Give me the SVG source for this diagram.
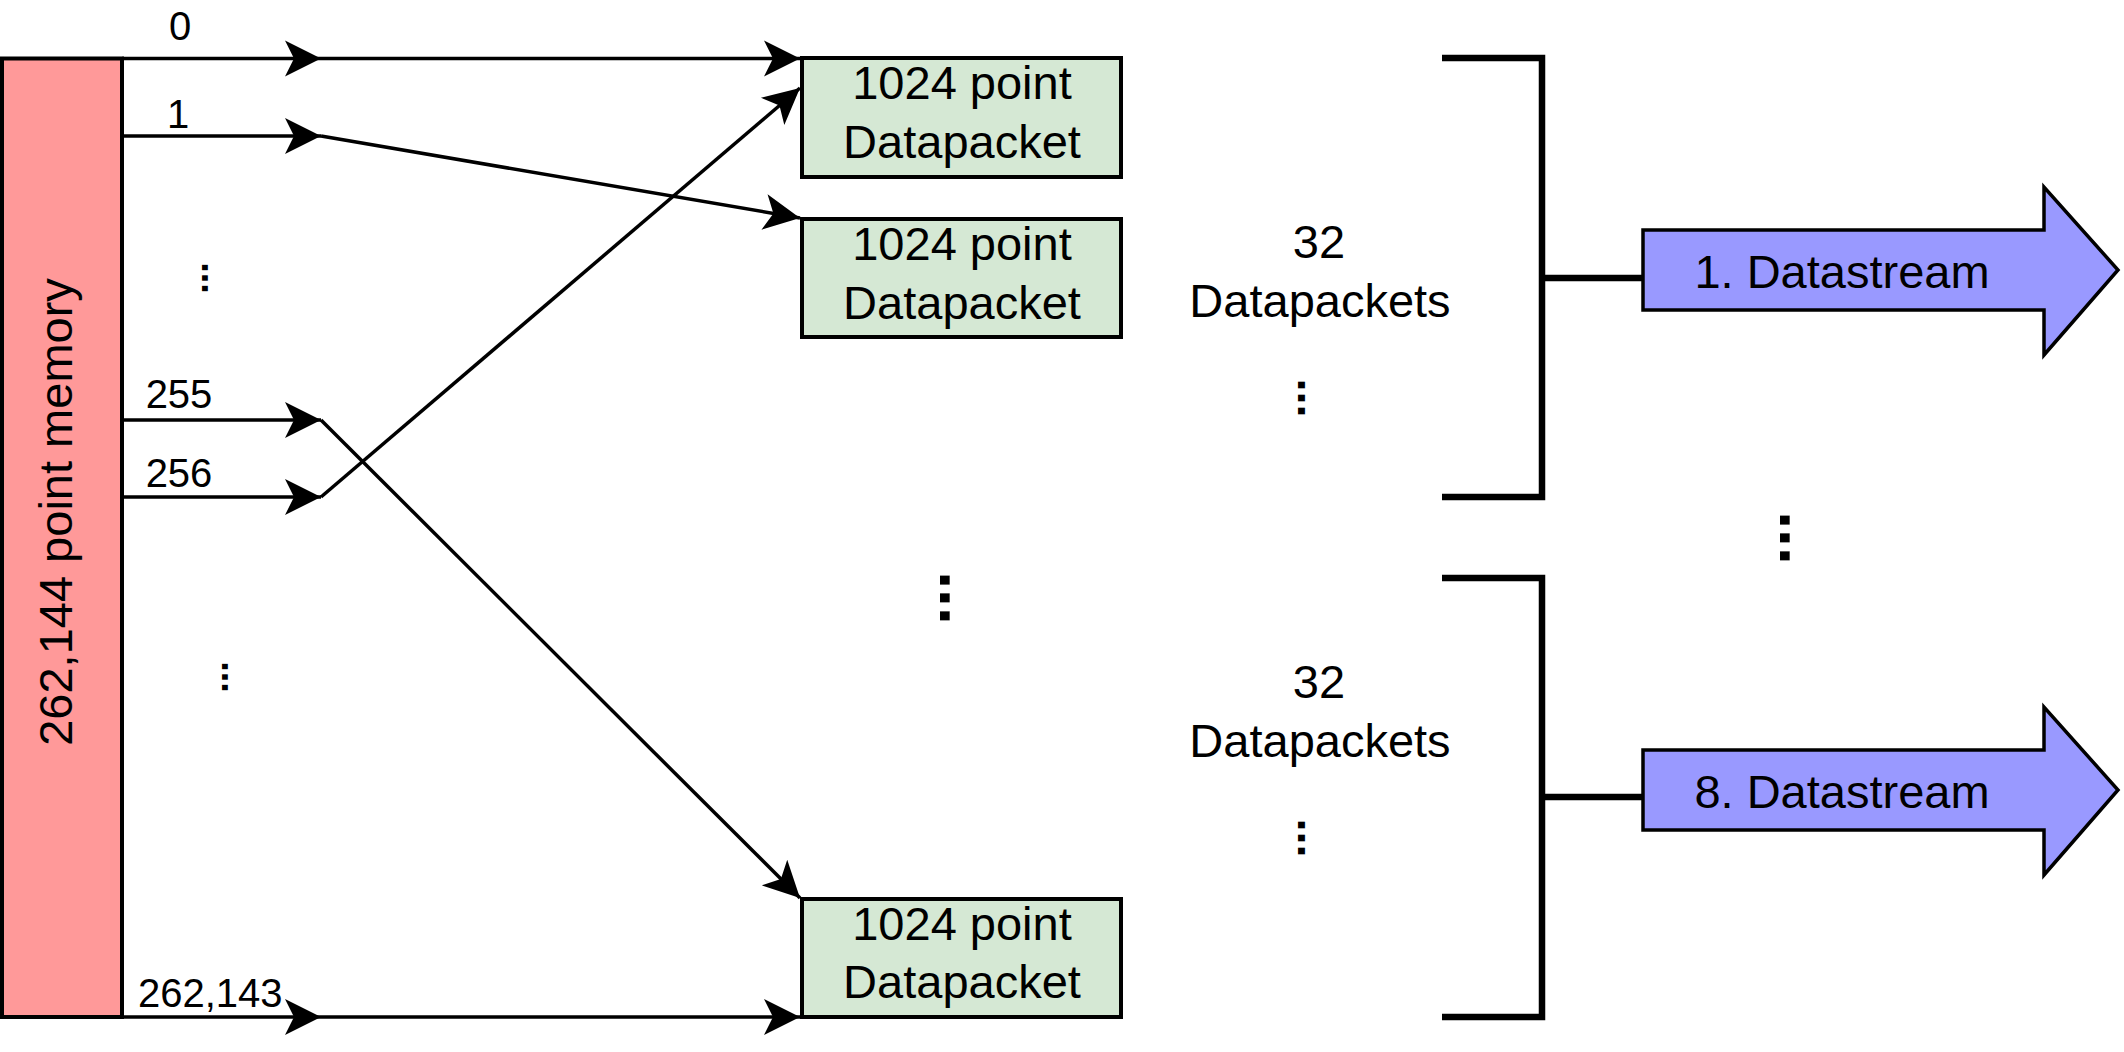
<svg xmlns="http://www.w3.org/2000/svg" width="2124" height="1052" viewBox="0 0 2124 1052">
  <style>
    text { font-family: "Liberation Sans", Arial, Helvetica, sans-serif; fill: #000; }
    .big { font-size: 47px; }
    .small { font-size: 40px; }
    .dots { font-weight: bold; }
    .conn { fill: none; stroke: #000; stroke-width: 3.5; marker-end: url(#ah); }
    .bracket { fill: none; stroke: #000; stroke-width: 6.5; }
    .packet { fill: #D5E8D4; stroke: #000; stroke-width: 4; }
    .stream { fill: #9999FF; stroke: #000; stroke-width: 3.5; stroke-linejoin: miter; }
  </style>
  <defs>
    <marker id="ah" viewBox="-40 -20 42 40" refX="0" refY="0" markerWidth="42" markerHeight="40" markerUnits="userSpaceOnUse" orient="auto">
      <path d="M0,0 L-36,-18 L-27,0 L-36,18 Z" fill="#000"/>
    </marker>
  </defs>
  <rect width="2124" height="1052" fill="#fff"/>

  <g id="memory">
    <rect x="2" y="58.5" width="120" height="958.5" fill="#FF9999" stroke="#000" stroke-width="4"/>
    <text class="big" transform="translate(72,512) rotate(-90)" text-anchor="middle">262,144 point memory</text>
  </g>

  <g id="packet1">
    <rect class="packet" x="802" y="58" width="319" height="119"/>
    <text class="big" x="962" y="99" text-anchor="middle">1024 point</text>
    <text class="big" x="962" y="158" text-anchor="middle">Datapacket</text>
  </g>
  <g id="packet2">
    <rect class="packet" x="802" y="219" width="319" height="118"/>
    <text class="big" x="962" y="260" text-anchor="middle">1024 point</text>
    <text class="big" x="962" y="319" text-anchor="middle">Datapacket</text>
  </g>
  <g id="packet3">
    <rect class="packet" x="802" y="899" width="319" height="118"/>
    <text class="big" x="962" y="940" text-anchor="middle">1024 point</text>
    <text class="big" x="962" y="998" text-anchor="middle">Datapacket</text>
  </g>

  <g id="group1">
    <text class="big" x="1319" y="258" text-anchor="middle">32</text>
    <text class="big" x="1320" y="317" text-anchor="middle">Datapackets</text>
    <text class="big dots" transform="translate(1298,398) rotate(90)" text-anchor="middle">...</text>
  </g>
  <g id="group2">
    <text class="big" x="1319" y="698" text-anchor="middle">32</text>
    <text class="big" x="1320" y="757" text-anchor="middle">Datapackets</text>
    <text class="big dots" transform="translate(1298,838) rotate(90)" text-anchor="middle">...</text>
  </g>

  <g id="stream1">
    <polygon class="stream" points="1643,230 2044,230 2044,187 2118,270 2044,355 2044,310 1643,310"/>
    <text class="big" x="1842" y="288" text-anchor="middle">1. Datastream</text>
  </g>
  <g id="stream8">
    <polygon class="stream" points="1643,750 2044,750 2044,707 2118,790 2044,875 2044,830 1643,830"/>
    <text class="big" x="1842" y="808" text-anchor="middle">8. Datastream</text>
  </g>

  <g id="ellipses">
    <text class="small dots" style="font-size:38px" transform="translate(202,278) rotate(90)" text-anchor="middle">...</text>
    <text class="small dots" style="font-size:38px" transform="translate(222,677) rotate(90)" text-anchor="middle">...</text>
    <text class="dots" style="font-size:64px" transform="translate(940,598) rotate(90)" text-anchor="middle">...</text>
    <text class="dots" style="font-size:64px" transform="translate(1780,538) rotate(90)" text-anchor="middle">...</text>
  </g>

  <g id="connectors">
    <path class="conn" d="M122,58.5 H321"/>
    <path class="conn" d="M321,58.5 H800"/>
    <path class="conn" d="M122,136 H321"/>
    <path class="conn" d="M321,136 L800,218"/>
    <path class="conn" d="M122,420 H321"/>
    <path class="conn" d="M321,420 L800,898"/>
    <path class="conn" d="M122,497 H321"/>
    <path class="conn" d="M321,497 L800,88"/>
    <path class="conn" d="M122,1017 H321"/>
    <path class="conn" d="M321,1017 H800"/>
    <path class="bracket" d="M1442,58 H1542 V497 H1442"/>
    <path class="bracket" d="M1542,278 H1643"/>
    <path class="bracket" d="M1442,578 H1542 V1017 H1442"/>
    <path class="bracket" d="M1542,797 H1643"/>
  </g>

  <g id="labels">
    <text class="small" x="180" y="40" text-anchor="middle">0</text>
    <text class="small" x="178" y="128" text-anchor="middle">1</text>
    <text class="small" x="179" y="408" text-anchor="middle">255</text>
    <text class="small" x="179" y="487" text-anchor="middle">256</text>
    <text class="small" x="138" y="1007">262,143</text>
  </g>
</svg>
